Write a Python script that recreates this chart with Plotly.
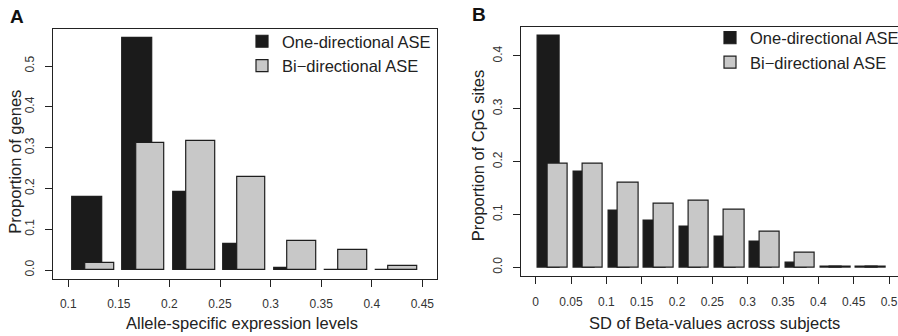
import plotly.graph_objects as go

W, H = 898, 336

# ---------------- data ----------------
# Panel A: allele-specific expression levels (bin starts)
a_bins = [0.10, 0.15, 0.20, 0.25, 0.30, 0.35, 0.40]
a_one = [0.179, 0.568, 0.190, 0.064, 0.006, 0.0, 0.0]
a_bi = [0.018, 0.312, 0.317, 0.229, 0.072, 0.050, 0.010]
a_xtickvals = [0.10, 0.15, 0.20, 0.25, 0.30, 0.35, 0.40, 0.45]
a_xticktext = ["0.1", "0.15", "0.2", "0.25", "0.3", "0.35", "0.4", "0.45"]
a_ytickvals = [0.0, 0.1, 0.2, 0.3, 0.4, 0.5]
a_yticktext = ["0.0", "0.1", "0.2", "0.3", "0.4", "0.5"]

# Panel B: SD of beta-values across subjects (bin starts)
b_bins = [0.00, 0.05, 0.10, 0.15, 0.20, 0.25, 0.30, 0.35, 0.40, 0.45]
b_one = [0.438, 0.180, 0.107, 0.088, 0.076, 0.058, 0.049, 0.009, 0.001, 0.001]
b_bi = [0.196, 0.196, 0.160, 0.120, 0.126, 0.109, 0.068, 0.027, 0.002, 0.002]
b_xtickvals = [0.0, 0.05, 0.10, 0.15, 0.20, 0.25, 0.30, 0.35, 0.40, 0.45, 0.50]
b_xticktext = ["0", "0.05", "0.1", "0.15", "0.2", "0.25", "0.3", "0.35", "0.4", "0.45", "0.5"]
b_ytickvals = [0.0, 0.1, 0.2, 0.3, 0.4]
b_yticktext = ["0.0", "0.1", "0.2", "0.3", "0.4"]

series_names = ["One-directional ASE", "Bi\u2212directional ASE"]

# ---------------- style ----------------
FONT = "Liberation Sans, Arial, Helvetica, sans-serif"
BLACK = "#1b1b1b"
GREY = "#c8c8c8"
EDGE = "#1e1e1e"
INK = "#222222"
ONE_OFF, ONE_W = 0.0185, 0.030
BI_OFF, BI_W = 0.031, 0.0285


def px(x):
    return x / W


def py(y):
    return 1 - y / H


fig = go.Figure()


def add_panel(bins, one, bi, xa, ya, legend):
    fig.add_trace(go.Bar(
        x=[b + ONE_OFF for b in bins], y=one, width=ONE_W,
        name=series_names[0], xaxis=xa, yaxis=ya, legend=legend,
        marker=dict(color=BLACK, line=dict(color=EDGE, width=1.2)),
        hoverinfo="skip"))
    fig.add_trace(go.Bar(
        x=[b + BI_OFF for b in bins], y=bi, width=BI_W,
        name=series_names[1], xaxis=xa, yaxis=ya, legend=legend,
        marker=dict(color=GREY, line=dict(color=EDGE, width=1.2)),
        hoverinfo="skip"))


add_panel(a_bins, a_one, a_bi, "x", "y", "legend")
add_panel(b_bins, b_one, b_bi, "x2", "y2", "legend2")

axis_common = dict(
    showgrid=False, zeroline=False, showline=True, linecolor=INK, linewidth=1.3,
    ticks="outside", ticklen=7, tickwidth=1.2, tickcolor=INK,
    tickfont=dict(family=FONT, size=12, color="#333333"),
    fixedrange=True,
)

fig.update_layout(
    width=W, height=H,
    margin=dict(l=0, r=0, t=0, b=0, autoexpand=False),
    paper_bgcolor="white", plot_bgcolor="white",
    barmode="overlay", bargap=0,
    font=dict(family=FONT, color=INK),
    xaxis=dict(domain=[px(53.3), px(436.7)], range=[0.0852, 0.4642],
               tickvals=a_xtickvals, ticktext=a_xticktext, mirror=True,
               anchor="y", ticklabelstandoff=7, **axis_common),
    yaxis=dict(domain=[py(278.7), py(29)], range=[-0.0213, 0.5907],
               tickvals=a_ytickvals, ticktext=a_yticktext, tickangle=-90, mirror=True,
               anchor="x", ticklabelstandoff=6, **axis_common),
    xaxis2=dict(domain=[px(520.7), 1.0], range=[-0.0212, 0.5127],
                tickvals=b_xtickvals, ticktext=b_xticktext, mirror=True,
                anchor="y2", ticklabelstandoff=7, **axis_common),
    yaxis2=dict(domain=[py(276), py(26.7)], range=[-0.0165, 0.4554],
                tickvals=b_ytickvals, ticktext=b_yticktext, tickangle=-90, mirror=False,
                anchor="x2", ticklabelstandoff=6, **axis_common),
    legend=dict(x=px(242), y=py(24), xanchor="left", yanchor="top",
                bgcolor="rgba(0,0,0,0)", font=dict(family=FONT, size=16.5, color=INK),
                tracegroupgap=0, itemclick=False, itemdoubleclick=False),
    legend2=dict(x=px(710), y=py(20.5), xanchor="left", yanchor="top",
                 bgcolor="rgba(0,0,0,0)", font=dict(family=FONT, size=16.5, color=INK),
                 tracegroupgap=0, itemclick=False, itemdoubleclick=False),
    showlegend=True,
)

annotations = [
    dict(text="<b>A</b>", x=px(17), y=py(16), font=dict(size=19, color="#111111")),
    dict(text="<b>B</b>", x=px(478.5), y=py(14.5), font=dict(size=19, color="#111111")),
    dict(text="Allele-specific expression levels", x=px(242.5), y=py(323.3),
         font=dict(size=16.5, color=INK)),
    dict(text="Proportion of genes", x=px(15), y=py(161.7), textangle=-90,
         font=dict(size=16.5, color=INK)),
    dict(text="SD of Beta-values across subjects", x=px(714.3), y=py(322.7),
         font=dict(size=16.5, color=INK)),
    dict(text="Proportion of CpG sites", x=px(478.3), y=py(155), textangle=-90,
         font=dict(size=16.5, color=INK)),
]
for a in annotations:
    a.update(xref="paper", yref="paper", xanchor="center", yanchor="middle",
             showarrow=False)
    a["font"]["family"] = FONT
fig.update_layout(annotations=annotations)

fig.write_html(
    "out.html",
    config={"displayModeBar": False},
    post_script="document.body.style.margin='0';document.body.style.overflow='hidden';",
)
